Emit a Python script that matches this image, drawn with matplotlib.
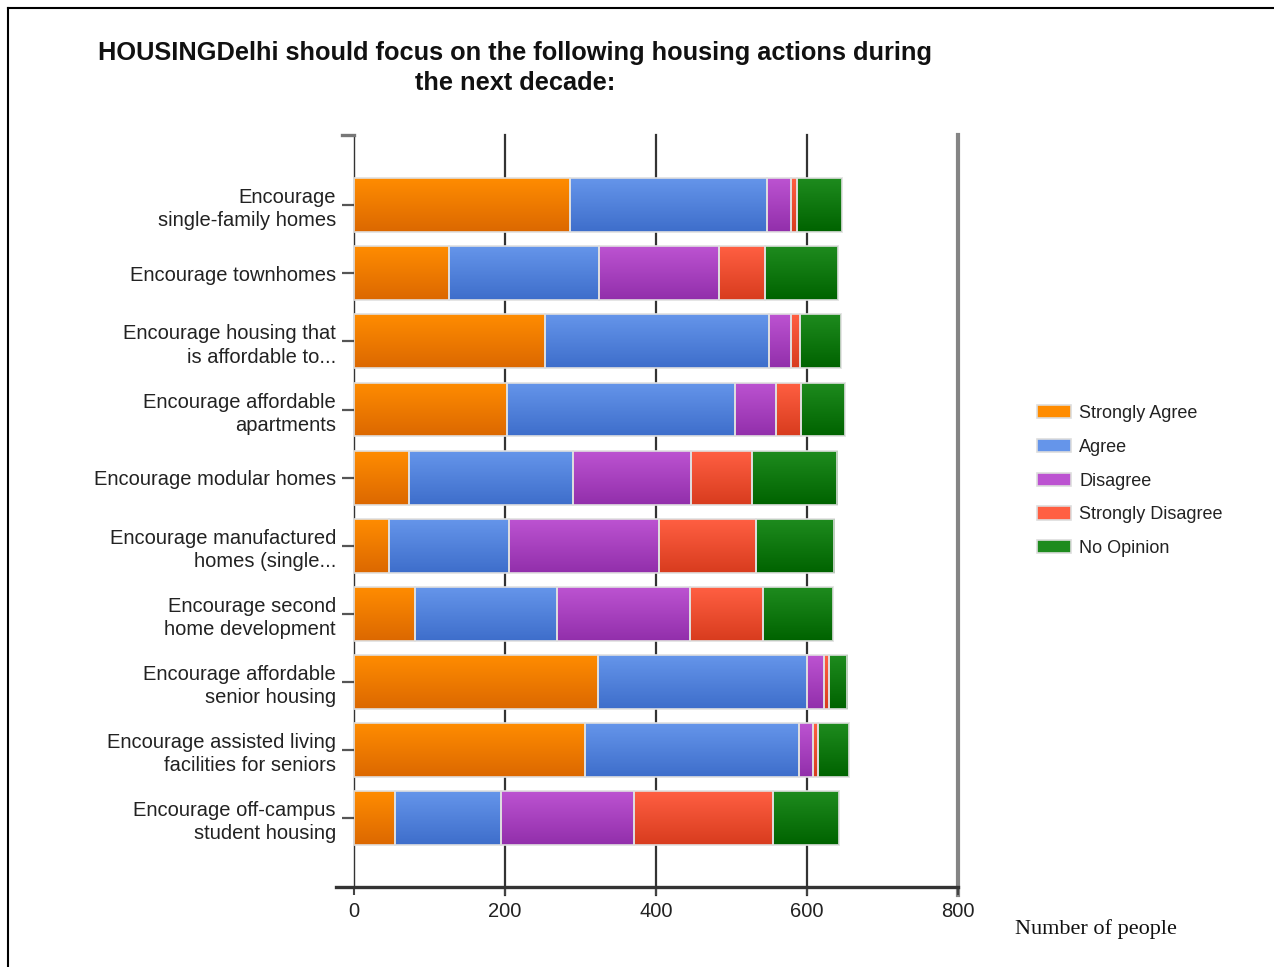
import matplotlib
matplotlib.use("Agg")
import matplotlib.pyplot as plt
import numpy as np
from matplotlib.colors import LinearSegmentedColormap
from matplotlib.patches import Patch
from matplotlib.lines import Line2D

plt.rcParams['font.family'] = ['Liberation Sans', 'DejaVu Sans']

actions = [
    "Encourage\nsingle-family homes",
    "Encourage townhomes",
    "Encourage housing that\nis affordable to...",
    "Encourage affordable\napartments",
    "Encourage modular homes",
    "Encourage manufactured\nhomes (single...",
    "Encourage second\nhome development",
    "Encourage affordable\nsenior housing",
    "Encourage assisted living\nfacilities for seniors",
    "Encourage off-campus\nstudent housing",
]
responses = ["Strongly Agree", "Agree", "Disagree", "Strongly Disagree", "No Opinion"]

strongly_agree    = [286, 126, 253, 203,  73,  46,  81, 323, 306,  54]
agree             = [261, 199, 297, 302, 217, 159, 188, 277, 283, 141]
disagree          = [ 32, 159,  29,  54, 156, 199, 176,  22,  19, 176]
strongly_disagree = [  8,  61,  12,  33,  81, 128,  97,   7,   7, 184]
no_opinion        = [ 59,  96,  54,  58, 113, 104,  92,  24,  41,  87]

x_ticks = [0, 200, 400, 600, 800]

# top / bottom shade of each series
shades = [
    ("#ff8c00", "#dc6800"),
    ("#6595ea", "#3e6ecb"),
    ("#bc53d1", "#922fab"),
    ("#ff5f42", "#d83c1e"),
    ("#1e8b1e", "#006300"),
]

fig = plt.figure(figsize=(12.74, 9.67), dpi=100)
ax = fig.add_axes([354/1274, 1-887/967, 604/1274, 752/967])

ypos = np.arange(len(actions))
bar_h = 0.79
series = [strongly_agree, agree, disagree, strongly_disagree, no_opinion]
left = np.zeros(len(actions))
for vals, (top, bot) in zip(series, shades):
    vals = np.array(vals, dtype=float)
    bars = ax.barh(ypos, vals, left=left, height=bar_h, color=top,
                   edgecolor="none", zorder=2)
    cmap = LinearSegmentedColormap.from_list("g", [top, bot])
    grad = np.linspace(0, 1, 64).reshape(-1, 1)
    for b in bars:
        x0, y0 = b.get_x(), b.get_y()
        w, h = b.get_width(), b.get_height()
        im = ax.imshow(grad, cmap=cmap, aspect="auto", origin="lower",
                       extent=(x0, x0 + w, y0, y0 + h), zorder=3)
        im.set_clip_path(b)
    ax.barh(ypos, vals, left=left, height=bar_h, facecolor="none",
            edgecolor=(0.88, 0.88, 0.88, 0.85), linewidth=1.4, zorder=4)
    left += vals

ax.set_xlim(0, 800)
ax.set_ylim(len(actions) - 1 + 1.01, -1.03)

# vertical grid lines sit behind the bars
for xv in x_ticks[1:-1]:
    ax.plot([xv, xv], [-1.03, 10.13], color="#333333", lw=1.6,
            zorder=1, clip_on=False)
ax.plot([800, 800], [-1.03, 10.13], color="#858585", lw=3,
        zorder=1, clip_on=False)

for s in ["top", "right", "bottom"]:
    ax.spines[s].set_visible(False)
ax.spines["left"].set_color("#333333")
ax.spines["left"].set_linewidth(1.0)

# x axis line runs a little past the y axis
ax.add_line(Line2D([-0.03, 1.0], [0, 0], transform=ax.transAxes,
                   color="#333333", lw=2.4, clip_on=False, zorder=5))
ax.add_line(Line2D([-0.02, 0], [1, 1], transform=ax.transAxes,
                   color="#777777", lw=2.4, clip_on=False, zorder=5))

ax.set_xticks(x_ticks)
ax.set_xticklabels([str(t) for t in x_ticks])
ax.tick_params(axis="x", length=6, width=1.5, color="#444444",
               labelsize=14.5, labelcolor="#222222", pad=5)
ax.set_yticks(ypos)
ax.set_yticklabels(actions, fontsize=14.5, color="#222222", linespacing=1.28)
ax.tick_params(axis="y", length=9, width=1.6, color="#555555", pad=4)

fig.text(515/1274, 1-68/967,
         "HOUSINGDelhi should focus on the following housing actions during\nthe next decade:",
         ha="center", va="center", fontsize=18.3, fontweight="bold",
         linespacing=1.3, color="#111111")

handles = [Patch(facecolor=top, edgecolor="#dddddd", linewidth=1.2)
           for top, _ in shades]
fig.legend(handles, responses, loc="upper left",
           bbox_to_anchor=(1037/1274, 1-405/967), frameon=False,
           borderaxespad=0, borderpad=0,
           fontsize=13, handlelength=1.9, handleheight=0.75,
           labelspacing=0.93, handletextpad=0.45, labelcolor="#222222")

fig.text(1015/1274, 1-929/967, "Number of people", ha="left", va="center",
         fontsize=16, family="Liberation Serif", color="#111111")

# page frame on the top and left edges
fig.add_artist(Line2D([8/1274, 1], [1-8/967, 1-8/967], color="black", lw=1.5))
fig.add_artist(Line2D([8/1274, 8/1274], [0, 1-8/967], color="black", lw=1.5))

fig.savefig("out.png", dpi=100)
